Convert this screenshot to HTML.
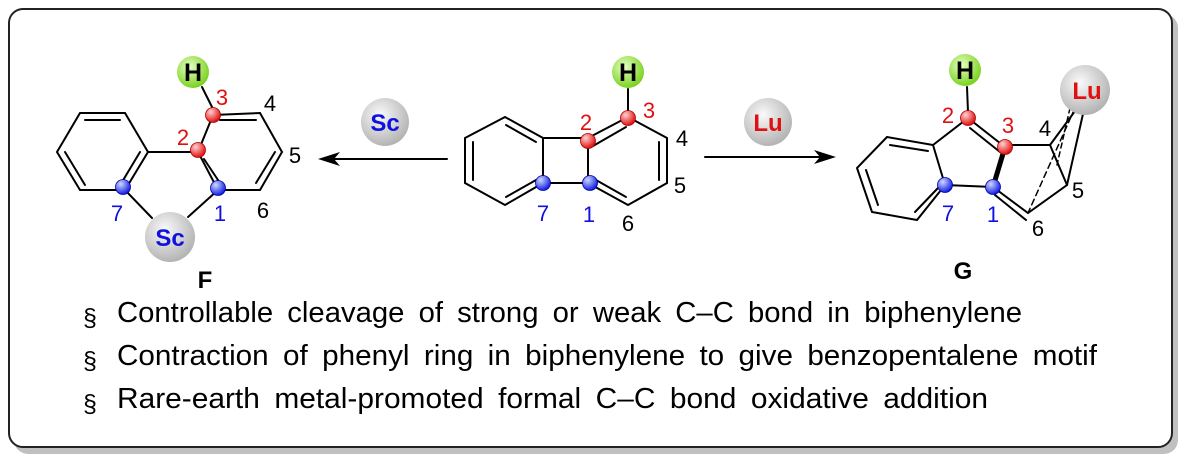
<!DOCTYPE html>
<html><head><meta charset="utf-8"><style>
html,body{margin:0;padding:0;background:#fff}
svg{display:block}
text{font-family:"Liberation Sans",sans-serif}
</style></head><body>
<svg width="1189" height="463" viewBox="0 0 1189 463" xmlns="http://www.w3.org/2000/svg">
<defs>
<radialGradient id="gr" cx="0.4" cy="0.35" r="0.65"><stop offset="0" stop-color="#fafafa"/><stop offset="1" stop-color="#b4b4b4"/></radialGradient>
<radialGradient id="gg" cx="0.4" cy="0.35" r="0.65"><stop offset="0" stop-color="#e6ffc8"/><stop offset="1" stop-color="#7ad21e"/></radialGradient>
<radialGradient id="rd" cx="0.35" cy="0.3" r="0.7"><stop offset="0" stop-color="#ffd0d0"/><stop offset="1" stop-color="#e01010"/></radialGradient>
<radialGradient id="bd" cx="0.35" cy="0.3" r="0.7"><stop offset="0" stop-color="#d0d8ff"/><stop offset="1" stop-color="#1020e0"/></radialGradient>
</defs>
<rect x="14" y="14" width="1164" height="440" rx="14" fill="#c0c0c0"/>
<rect x="9" y="9" width="1163" height="438" rx="14" fill="#fff" stroke="#222" stroke-width="2"/>

<g stroke="#000" stroke-width="2" fill="none" stroke-linecap="round">
<polygon points="80,113 125,113 148,152 125,190 80,190 57,152"/>
<line x1="85" y1="120" x2="120" y2="120"/><line x1="65" y1="152" x2="85" y2="185"/><line x1="122" y1="182" x2="140" y2="152"/>
<polyline points="213,115 260,113 282,152 260,190 218,190 198,152 213,115"/>
<line x1="220" y1="120" x2="256" y2="120"/><line x1="275" y1="152" x2="256" y2="183"/><line x1="204" y1="159" x2="222" y2="186"/>
<line x1="148" y1="152" x2="198" y2="152"/>
<line x1="125" y1="190" x2="152" y2="218"/><line x1="218" y1="190" x2="188" y2="217"/>
<line x1="202" y1="87" x2="212" y2="107"/>
<polygon points="465,138 505,117 543,138 543,183 505,205 465,183"/>
<line x1="506" y1="125" x2="536" y2="142"/><line x1="473" y1="142" x2="473" y2="180"/><line x1="506" y1="197" x2="536" y2="180"/>
<polyline points="543,138 588,138 588,183 543,183"/>
<polyline points="588,138 628,117 667,138 667,183 628,205 588,183"/>
<line x1="593" y1="146" x2="626" y2="127"/><line x1="659" y1="142" x2="659" y2="180"/><line x1="596" y1="180" x2="626" y2="197"/>
<line x1="628" y1="89" x2="628" y2="112"/>
<polygon points="887,137 933,145 945,185 917,220 872,212 857,168"/>
<line x1="890" y1="145" x2="928" y2="151"/><line x1="866" y1="170" x2="878" y2="205"/><line x1="915" y1="212" x2="938" y2="188"/>
<polyline points="933,145 968,118 1005,147"/>
<line x1="970" y1="128" x2="1000" y2="152"/>
<polyline points="945,185 993,187 1028,213 1067,185 1050,145 1005,145"/>
<line x1="995" y1="195" x2="1026" y2="220"/>
<line x1="1005" y1="147" x2="993" y2="187" stroke-width="5"/>
<line x1="1078" y1="107" x2="1050" y2="145"/><line x1="1085" y1="105" x2="1067" y2="185"/>
<line x1="1075" y1="108" x2="1028" y2="213" stroke-dasharray="6,4" stroke-width="1.5"/>
<line x1="1070" y1="108" x2="1057" y2="165" stroke-dasharray="5,4" stroke-width="1.5"/>
<line x1="967" y1="87" x2="968" y2="112"/>
<line x1="447" y1="159" x2="330" y2="159"/>
<line x1="705" y1="157" x2="825" y2="157"/>
</g>
<polygon points="318,159 340,152 334,159 340,166" fill="#000"/>
<polygon points="836,157 814,150 820,157 814,164" fill="#000"/>

<g stroke="#a00" stroke-width="0.8" fill="url(#rd)">
<circle cx="213" cy="115" r="7.5"/><circle cx="198" cy="150" r="7.5"/>
<circle cx="588" cy="141" r="7.5"/><circle cx="628" cy="118" r="7.5"/>
<circle cx="968" cy="118" r="7.5"/><circle cx="1005" cy="147" r="7.5"/>
</g>
<g stroke="#00a" stroke-width="0.8" fill="url(#bd)">
<circle cx="123" cy="187" r="7.5"/><circle cx="218" cy="188" r="7.5"/>
<circle cx="543" cy="183" r="7.5"/><circle cx="590" cy="183" r="7.5"/>
<circle cx="945" cy="185" r="7.5"/><circle cx="993" cy="187" r="7.5"/>
</g>
<g fill="url(#gg)"><circle cx="193" cy="72" r="16"/><circle cx="628" cy="72" r="16"/><circle cx="965" cy="70" r="16"/></g>
<g fill="url(#gr)"><circle cx="170" cy="237" r="25"/><circle cx="385" cy="122" r="24"/><circle cx="768" cy="122" r="24"/><circle cx="1085" cy="90" r="25"/></g>

<g font-weight="bold" text-anchor="middle">
<g font-size="25"><text x="193" y="81">H</text><text x="628" y="81">H</text><text x="965" y="79">H</text></g>
<g font-size="24"><text x="170" y="246" fill="#1010e0">Sc</text><text x="385" y="131" fill="#1010e0">Sc</text>
<text x="768" y="131" fill="#e01010">Lu</text><text x="1087" y="99" fill="#e01010">Lu</text></g>
<g font-size="24"><text x="205" y="288" fill="#000">F</text><text x="963" y="279" fill="#000">G</text></g>
</g>
<g font-size="22" text-anchor="middle">
<g fill="#e01010"><text x="222" y="105">3</text><text x="183" y="145">2</text><text x="586" y="130">2</text><text x="649" y="118">3</text><text x="948" y="123">2</text><text x="1008" y="133">3</text></g>
<g fill="#1010e0"><text x="117" y="221">7</text><text x="220" y="221">1</text><text x="543" y="221">7</text><text x="589" y="222">1</text><text x="948" y="221">7</text><text x="993" y="222">1</text></g>
<g fill="#000"><text x="270" y="111">4</text><text x="295" y="163">5</text><text x="263" y="218">6</text>
<text x="682" y="146">4</text><text x="680" y="193">5</text><text x="628" y="231">6</text>
<text x="1045" y="136">4</text><text x="1078" y="198">5</text><text x="1038" y="236">6</text></g>
</g>
<g font-size="29" fill="#000">
<text x="83" y="326" font-family="Liberation Serif,serif" font-size="25">§</text>
<text x="83" y="369" font-family="Liberation Serif,serif" font-size="25">§</text>
<text x="83" y="412" font-family="Liberation Serif,serif" font-size="25">§</text>
<text x="117" y="322" textLength="905" lengthAdjust="spacingAndGlyphs" word-spacing="6">Controllable cleavage of strong or weak C–C bond in biphenylene</text>
<text x="117" y="365" textLength="980" lengthAdjust="spacingAndGlyphs" word-spacing="6">Contraction of phenyl ring in biphenylene to give benzopentalene motif</text>
<text x="117" y="408" textLength="871" lengthAdjust="spacingAndGlyphs" word-spacing="6">Rare-earth metal-promoted formal C–C bond oxidative addition</text>
</g>
</svg>
</body></html>
